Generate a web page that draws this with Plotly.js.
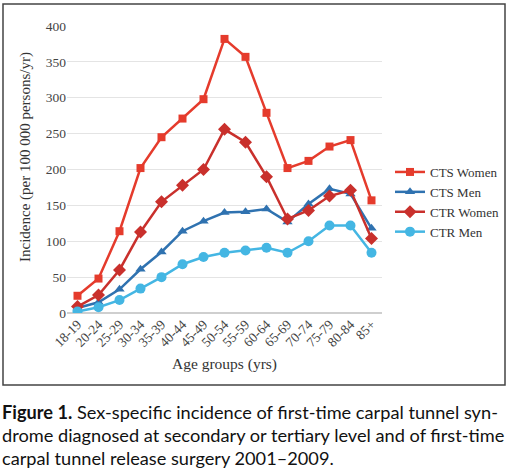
<!DOCTYPE html>
<html><head><meta charset="utf-8">
<script src="https://cdn.plot.ly/plotly-3.0.1.min.js"></script>
<style>html,body{margin:0;padding:0;background:#fff}#chart{width:509px;height:471px}</style>
</head><body><div id="chart"></div>
<script>
const ageGroups = ["18-19","20-24","25-29","30-34","35-39","40-44","45-49","50-54","55-59","60-64","65-69","70-74","75-79","80-84","85+"];
const ctsWomen = [24,48,114,202,245,271,298,382,357,279,202,212,232,241,157];
const ctsMen   = [7,15,33,61,85,114,128,140,141,145,127,152,173,166,118];
const ctrWomen = [9,25,60,113,155,178,200,256,238,190,131,143,163,171,104];
const ctrMen   = [2,8,18,34,50,68,78,84,87,91,84,100,122,122,84];
const yTicks = [0,50,100,150,200,250,300,350,400];

function tr(name, y, color, symbol, size){
  return {x: ageGroups, y: y, name: name, type: 'scatter', mode: 'lines+markers',
    line: {color: color, width: 2.5}, marker: {color: color, symbol: symbol, size: size}};
}
const data = [
  tr('CTS Women', ctsWomen, '#e53b2c', 'square', 8),
  tr('CTS Men', ctsMen, '#2f72b0', 'triangle-up', 9),
  tr('CTR Women', ctrWomen, '#c9302c', 'diamond', 10),
  tr('CTR Men', ctrMen, '#44b6e3', 'circle', 10)
];
const serif = 'Liberation Serif, Times New Roman, serif';
const capFont = {family: 'Lato, Open Sans, sans-serif', size: 18.2, color: '#111'};
const W = 315, H = 287, L = 67, T = 26;
const px = v => (v - L) / W;
const py = v => (T + H - v) / H;
const layout = {
  width: 509, height: 471,
  margin: {l: 67, r: 127, t: 26, b: 158, autoexpand: false},
  paper_bgcolor: '#fff', plot_bgcolor: '#fff',
  showlegend: true,
  font: {family: serif, size: 13, color: '#333'},
  xaxis: {type: 'category', range: [-0.5, 14.5], tickangle: -45, showgrid: false, automargin: false,
    ticks: '', tickfont: {family: serif, size: 13.5, color: '#444'},
    title: {text: 'Age groups (yrs)', font: {family: serif, size: 15.5, color: '#333'}, standoff: 9},
    showline: false, zeroline: false},
  yaxis: {range: [0, 400], tickvals: yTicks, gridcolor: '#e4e4e4', gridwidth: 1, automargin: false,
    zeroline: true, zerolinecolor: '#cfcfcf', zerolinewidth: 1.5,
    tickfont: {family: serif, size: 13.5, color: '#444'}},
  legend: {xref: 'container', yref: 'container', x: 390/509, y: 1 - 157/471, xanchor: 'left', yanchor: 'top',
    font: {family: serif, size: 13, color: '#333'},
    tracegroupgap: 0, itemwidth: 30, bgcolor: 'rgba(0,0,0,0)'},
  shapes: [{type: 'rect', xref: 'paper', yref: 'paper', x0: px(3), x1: px(505), y0: py(385), y1: py(4),
    line: {color: '#444', width: 1.5}}],
  annotations: [
    {xref: 'paper', yref: 'paper', x: px(25), y: py(157), xanchor: 'center', yanchor: 'middle', showarrow: false,
      textangle: -90, text: 'Incidence (per 100 000 persons/yr)', font: {family: serif, size: 15, color: '#333'}},
    {xref: 'paper', yref: 'paper', x: px(0), y: py(412), xanchor: 'left', yanchor: 'middle', showarrow: false,
      text: '<b>Figure 1.</b> Sex-specific incidence of first-time carpal tunnel syn-', font: capFont},
    {xref: 'paper', yref: 'paper', x: px(0), y: py(435), xanchor: 'left', yanchor: 'middle', showarrow: false,
      text: 'drome diagnosed at secondary or tertiary level and of first-time', font: capFont},
    {xref: 'paper', yref: 'paper', x: px(0), y: py(458), xanchor: 'left', yanchor: 'middle', showarrow: false,
      text: 'carpal tunnel release surgery 2001–2009.', font: capFont}
  ]
};
Plotly.newPlot('chart', data, layout, {displayModeBar: false, staticPlot: true});
</script></body></html>
